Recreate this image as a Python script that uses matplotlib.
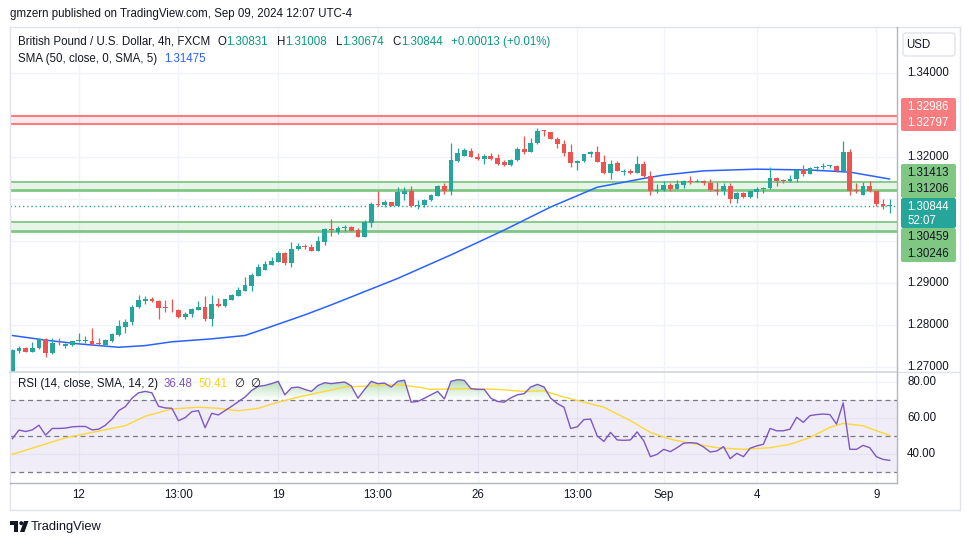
import numpy as np
import matplotlib
matplotlib.use('Agg')
import matplotlib.pyplot as plt
from matplotlib.transforms import blended_transform_factory as btf
from matplotlib.patches import Rectangle, FancyBboxPatch, Polygon, Circle
from matplotlib.lines import Line2D
from matplotlib.path import Path
from matplotlib.colors import LinearSegmentedColormap

plt.rcParams['font.family'] = ['Liberation Sans', 'DejaVu Sans']

# ---------------- data ----------------
opens = [1.2685, 1.2738, 1.2746, 1.2736, 1.2746, 1.2766, 1.2734, 1.2758, 1.2750, 1.2752,
         1.2762, 1.2762, 1.2763, 1.2757, 1.2752, 1.2762, 1.2776, 1.2796, 1.2806, 1.2842,
         1.2858, 1.2862, 1.2858, 1.2841, 1.2839, 1.2836, 1.2818, 1.2826, 1.2836, 1.2842,
         1.2814, 1.2850, 1.2845, 1.2860, 1.2869, 1.2881, 1.2894, 1.2917, 1.2931, 1.2943,
         1.2951, 1.2972, 1.2948, 1.2980, 1.2986, 1.2985, 1.2977, 1.2998, 1.3028, 1.3022,
         1.3030, 1.3033, 1.3026, 1.3010, 1.3044, 1.3089, 1.3085, 1.3092, 1.3084, 1.3113,
         1.3120, 1.3084, 1.3086, 1.3097, 1.3108, 1.3132, 1.3118, 1.3190, 1.3203, 1.3215,
         1.3200, 1.3196, 1.3203, 1.3198, 1.3187, 1.3180, 1.3192, 1.3218, 1.3212, 1.3233,
         1.3263, 1.3260, 1.3244, 1.3232, 1.3211, 1.3186, 1.3190, 1.3207, 1.3212, 1.3188,
         1.3162, 1.3185, 1.3165, 1.3167, 1.3163, 1.3184, 1.3155, 1.3118, 1.3121, 1.3134,
         1.3124, 1.3134, 1.3143, 1.3141, 1.3143, 1.3138, 1.3122, 1.3120, 1.3131, 1.3100,
         1.3115, 1.3104, 1.3117, 1.3123, 1.3125, 1.3150, 1.3146, 1.3142, 1.3147, 1.3170,
         1.3160, 1.3174, 1.3176, 1.3178, 1.3179, 1.3166, 1.3211, 1.3121, 1.3110, 1.3132,
         1.3119, 1.3088, 1.30831]
highs = [1.2742, 1.2750, 1.2747, 1.2760, 1.2770, 1.2768, 1.2770, 1.2768, 1.2758, 1.2763,
         1.2782, 1.2774, 1.2792, 1.2768, 1.2766, 1.2780, 1.2812, 1.2814, 1.2848, 1.2872,
         1.2870, 1.2866, 1.2860, 1.2860, 1.2862, 1.2837, 1.2830, 1.2840, 1.2857, 1.2869,
         1.2871, 1.2864, 1.2863, 1.2874, 1.2890, 1.2914, 1.2923, 1.2945, 1.2952, 1.2961,
         1.2977, 1.2973, 1.2997, 1.2996, 1.2992, 1.2993, 1.3012, 1.3030, 1.3053, 1.3036,
         1.3038, 1.3036, 1.3030, 1.3049, 1.3092, 1.3120, 1.3098, 1.3093, 1.3129, 1.3129,
         1.3132, 1.3097, 1.3100, 1.3111, 1.3133, 1.3137, 1.3233, 1.3222, 1.3221, 1.3221,
         1.3210, 1.3206, 1.3210, 1.3207, 1.3192, 1.3196, 1.3223, 1.3249, 1.3245, 1.3268,
         1.3264, 1.3260, 1.3247, 1.3240, 1.3232, 1.3192, 1.3208, 1.3214, 1.3227, 1.3204,
         1.3192, 1.3191, 1.3171, 1.3171, 1.3202, 1.3190, 1.3166, 1.3136, 1.3142, 1.3139,
         1.3146, 1.3146, 1.3155, 1.3147, 1.3146, 1.3147, 1.3140, 1.3139, 1.3139, 1.3117,
         1.3116, 1.3120, 1.3128, 1.3128, 1.3176, 1.3152, 1.3148, 1.3158, 1.3171, 1.3182,
         1.3175, 1.3178, 1.3186, 1.3182, 1.3180, 1.3239, 1.3218, 1.3138, 1.3140, 1.3144,
         1.3119, 1.3100, 1.31008]
lows = [1.2680, 1.2734, 1.2735, 1.2735, 1.2744, 1.2724, 1.2730, 1.2752, 1.2746, 1.2751,
        1.2760, 1.2756, 1.2753, 1.2753, 1.2751, 1.2760, 1.2774, 1.2780, 1.2800, 1.2840,
        1.2850, 1.2854, 1.2814, 1.2832, 1.2832, 1.2817, 1.2814, 1.2820, 1.2835, 1.2810,
        1.2798, 1.2844, 1.2844, 1.2859, 1.2868, 1.2880, 1.2882, 1.2916, 1.2930, 1.2942,
        1.2950, 1.2944, 1.2939, 1.2979, 1.2981, 1.2976, 1.2976, 1.2990, 1.3012, 1.3017,
        1.3024, 1.3023, 1.3010, 1.3010, 1.3034, 1.3083, 1.3082, 1.3083, 1.3083, 1.3097,
        1.3082, 1.3077, 1.3082, 1.3096, 1.3107, 1.3112, 1.3109, 1.3189, 1.3202, 1.3199,
        1.3192, 1.3183, 1.3194, 1.3182, 1.3179, 1.3179, 1.3191, 1.3207, 1.3211, 1.3232,
        1.3249, 1.3242, 1.3221, 1.3203, 1.3176, 1.3168, 1.3187, 1.3200, 1.3187, 1.3160,
        1.3148, 1.3166, 1.3158, 1.3160, 1.3162, 1.3153, 1.3110, 1.3114, 1.3120, 1.3120,
        1.3123, 1.3126, 1.3135, 1.3140, 1.3134, 1.3120, 1.3110, 1.3110, 1.3090, 1.3090,
        1.3102, 1.3102, 1.3102, 1.3114, 1.3124, 1.3132, 1.3138, 1.3140, 1.3140, 1.3154,
        1.3159, 1.3166, 1.3171, 1.3174, 1.3165, 1.3165, 1.3110, 1.3114, 1.3110, 1.3117,
        1.3084, 1.3075, 1.30674]
closes = [1.2740, 1.2746, 1.2736, 1.2746, 1.2766, 1.2734, 1.2756, 1.2756, 1.2754, 1.2762,
          1.2763, 1.2763, 1.2754, 1.2755, 1.2764, 1.2778, 1.2798, 1.2808, 1.2844, 1.2860,
          1.2862, 1.2856, 1.2840, 1.2840, 1.2837, 1.2818, 1.2826, 1.2838, 1.2842, 1.2814,
          1.2850, 1.2845, 1.2862, 1.2871, 1.2883, 1.2895, 1.2919, 1.2939, 1.2945, 1.2953,
          1.2972, 1.2948, 1.2981, 1.2987, 1.2985, 1.2977, 1.3000, 1.3028, 1.3026, 1.3032,
          1.3033, 1.3024, 1.3010, 1.3046, 1.3089, 1.3085, 1.3092, 1.3084, 1.3116, 1.3120,
          1.3084, 1.3086, 1.3098, 1.3110, 1.3132, 1.3118, 1.3192, 1.3209, 1.3216, 1.3200,
          1.3196, 1.3203, 1.3196, 1.3184, 1.3180, 1.3194, 1.3218, 1.3212, 1.3233, 1.3263,
          1.3261, 1.3243, 1.3231, 1.3210, 1.3186, 1.3191, 1.3207, 1.3212, 1.3188, 1.3162,
          1.3183, 1.3167, 1.3167, 1.3163, 1.3184, 1.3154, 1.3118, 1.3122, 1.3134, 1.3124,
          1.3136, 1.3144, 1.3141, 1.3143, 1.3138, 1.3122, 1.3120, 1.3131, 1.3100, 1.3115,
          1.3104, 1.3118, 1.3124, 1.3125, 1.3150, 1.3144, 1.3144, 1.3148, 1.3170, 1.3160,
          1.3174, 1.3176, 1.3178, 1.3179, 1.3166, 1.3211, 1.3118, 1.3118, 1.3132, 1.3118,
          1.3087, 1.3083, 1.30844]

sma_idx = [0, 5, 10, 16, 20, 24, 30, 35, 38, 40, 44, 48, 58, 66, 74, 81, 88, 91, 95, 98,
           104, 112, 120, 126, 132]
sma_vals = [1.2775, 1.2764, 1.2755, 1.2747, 1.2751, 1.2760, 1.2767, 1.2775, 1.2791, 1.2802,
            1.2824, 1.2848, 1.2911, 1.2967, 1.3026, 1.3081, 1.3128, 1.3137, 1.3149, 1.3157,
            1.3167, 1.3171, 1.3169, 1.3164, 1.31475]

rsi_vals = [48.5, 53.3, 52.5, 53.4, 56.0, 50.5, 54.2, 54.2, 54.4, 55.1,
            55.3, 55.3, 53.4, 53.8, 56.0, 59.4, 64.1, 66.3, 71.0, 74.0,
            74.8, 74.0, 66.5, 65.6, 65.4, 58.5, 60.2, 63.5, 64.1, 54.6,
            62.6, 61.7, 64.1, 66.5, 69.1, 71.6, 75.3, 77.6, 78.1, 79.1,
            80.4, 72.9, 76.8, 77.2, 75.9, 74.8, 78.1, 79.6, 79.1, 79.6,
            80.0, 77.8, 71.0, 75.9, 80.4, 79.1, 79.4, 77.2, 80.4, 81.0,
            68.8, 69.2, 71.0, 72.9, 74.8, 70.6, 80.4, 81.3, 80.9, 76.3,
            75.9, 75.9, 71.0, 69.2, 68.8, 71.2, 72.9, 73.5, 77.2, 78.7,
            77.2, 71.0, 68.0, 66.0, 54.2, 55.1, 59.1, 59.4, 50.0, 47.0,
            52.0, 47.8, 47.6, 47.8, 52.3, 47.3, 38.5, 39.8, 42.6, 41.3,
            43.5, 46.0, 46.3, 46.0, 43.9, 41.1, 41.7, 44.1, 37.4, 40.4,
            38.5, 43.2, 44.5, 45.4, 54.2, 52.9, 52.9, 53.8, 60.4, 57.6,
            61.3, 61.9, 62.2, 61.9, 56.6, 68.4, 42.6, 42.6, 44.8, 43.5,
            38.5, 37.0, 36.48]

rsi_ma_idx = [0, 8, 12, 17, 20, 24, 28, 31, 34, 37, 40, 43, 47, 50, 54, 58, 61, 63, 68, 73,
              77, 80, 83, 86, 89, 93, 96, 99, 102, 106, 110, 114, 117, 120, 123, 125, 128,
              130, 132]
rsi_ma_vals = [39.8, 49.0, 52.0, 55.7, 61.0, 65.0, 66.0, 65.4, 64.0, 65.4, 68.8, 71.6, 74.8,
               77.2, 77.8, 78.5, 77.2, 75.9, 76.3, 75.9, 74.8, 75.1, 71.6, 68.8, 66.0, 58.5,
               52.0, 48.2, 46.0, 43.5, 42.6, 43.5, 45.4, 49.1, 54.8, 57.0, 55.7, 52.9, 50.41]

red_zone = [1.32797, 1.32986]
green_zone_hi = [1.31206, 1.31413]
green_zone_lo = [1.30246, 1.30459]

price_grid = [1.27, 1.28, 1.29, 1.30, 1.31, 1.32, 1.33, 1.34]
price_label_levels = [1.27, 1.28, 1.29, 1.32, 1.34]
rsi_grid = [40, 60, 80]
time_idx = [10, 25, 40, 55, 70, 85, 98, 112, 130]
time_labels = ['12', '13:00', '19', '13:00', '26', '13:00', 'Sep', '4', '9']

last_ohlc = {'O': 1.30831, 'H': 1.31008, 'L': 1.30674, 'C': 1.30844}
change = '+0.00013 (+0.01%)'
sma_last = 1.31475
rsi_last = 36.48
rsi_ma_last = 50.41
countdown = '52:07'

# ---------------- style ----------------
UP = '#26a69a'
DOWN = '#ef5350'
TXT = '#131722'
GRID = '#f0f3fa'
AXLINE = '#b2b5be'
W, H = 970, 545
FS = 8.3


def fx(x):
    return x / W


def fy(y):
    return 1 - y / H


fig = plt.figure(figsize=(W / 100, H / 100), dpi=100)
fig.patch.set_facecolor('white')

XL = (-0.35, 133.1)
ax = fig.add_axes([fx(10), fy(372), 887 / W, 345 / H])
rax = fig.add_axes([fx(10), fy(483), 887 / W, 111 / H])
for a in (ax, rax):
    a.set_axis_off()

idx = np.arange(len(closes))
o = np.array(opens)
h = np.array(highs)
l = np.array(lows)
c = np.array(closes)

# grid
for lvl in price_grid:
    ax.axhline(lvl, color=GRID, lw=1, zorder=0)
for t in time_idx:
    ax.axvline(t, color=GRID, lw=1, zorder=0)
    rax.axvline(t, color=GRID, lw=1, zorder=0)

# zones
ax.axhspan(red_zone[0], red_zone[1], color='#f23645', alpha=0.10, lw=0, zorder=1)
for v in red_zone:
    ax.axhline(v, color='#f77c80', lw=1.5, zorder=1.5)
for z in (green_zone_hi, green_zone_lo):
    ax.axhspan(z[0], z[1], color='#4caf50', alpha=0.13, lw=0, zorder=1)
    ax.axhline(z[1], color='#81c784', lw=1.3, zorder=1.5)
    ax.axhline(z[0], color='#81c784', lw=2.0, zorder=1.5)

# SMA
ax.plot(sma_idx, sma_vals, color='#2962ff', lw=1.1, zorder=2, solid_capstyle='round')

# candles
up = c >= o
col = np.where(up, UP, DOWN)
ax.vlines(idx, l, h, colors=col, lw=0.9, zorder=3)
body_bottom = np.minimum(o, c)
body_h = np.maximum(np.abs(c - o), 0.00022)
ax.bar(idx, body_h, bottom=body_bottom, width=0.72, color=col, lw=0, zorder=4)

# last price line
ax.axhline(closes[-1], color=UP, lw=1, ls=(0, (1, 2)), zorder=2)

ax.set_xlim(*XL)
ax.set_ylim(1.26881, 1.35095)

# price labels
tr = btf(ax.transAxes, ax.transData)
for lvl in price_label_levels:
    ax.text(1.0113, lvl, f'{lvl:.5f}', transform=tr, ha='left', va='center',
            fontsize=FS, color=TXT, clip_on=False)

# ---------------- RSI pane ----------------
rsi = np.array(rsi_vals)
for lvl in rsi_grid:
    rax.axhline(lvl, color=GRID, lw=1, zorder=0)
rax.axhspan(30, 70, color='#7e57c2', alpha=0.1, lw=0, zorder=0.5)
for lvl in (70, 50, 30):
    rax.axhline(lvl, color='#787b86', lw=0.9, ls=(0, (4, 3)), zorder=1)

fb = rax.fill_between(idx, rsi, 70, where=rsi > 70, interpolate=True,
                      facecolor='none', edgecolor='none')
paths = fb.get_paths()
if paths:
    clip = Path.make_compound_path(*paths)
    cmap = LinearSegmentedColormap.from_list(
        'gfade', [(0.30, 0.69, 0.31, 0.0), (0.30, 0.69, 0.31, 0.45)])
    grad = np.linspace(0, 1, 100).reshape(-1, 1)
    im = rax.imshow(grad, extent=[XL[0], XL[1], 70, 82], origin='lower',
                    aspect='auto', cmap=cmap, zorder=1.2, interpolation='bilinear')
    im.set_clip_path(clip, transform=rax.transData)

rax.plot(rsi_ma_idx, rsi_ma_vals, color='#fdd835', lw=1.0, zorder=2)
rax.plot(idx, rsi, color='#7e57c2', lw=1.0, zorder=3)
rax.set_xlim(*XL)
rax.set_ylim(23.89, 85.56)

rtr = btf(rax.transAxes, rax.transData)
for lvl in rsi_grid:
    rax.text(1.0113, lvl, f'{lvl:.2f}', transform=rtr, ha='left', va='center',
             fontsize=FS, color=TXT, clip_on=False)

# time labels
ttr = btf(rax.transData, fig.transFigure)
for t, lab in zip(time_idx, time_labels):
    rax.text(t, fy(495), lab, transform=ttr, ha='center', va='center',
             fontsize=FS, color=TXT, clip_on=False)

# ---------------- overlay (pixel coordinates) ----------------
ov = fig.add_axes([0, 0, 1, 1])
ov.set_xlim(0, W)
ov.set_ylim(H, 0)
ov.set_axis_off()

# frame lines
ov.add_line(Line2D([10, 960], [27, 27], color='#e0e3eb', lw=1))
ov.add_line(Line2D([10, 10], [27, 510], color='#e0e3eb', lw=1))
ov.add_line(Line2D([960, 960], [27, 510], color='#e0e3eb', lw=1))
ov.add_line(Line2D([10, 960], [510, 510], color='#e0e3eb', lw=1))
ov.add_line(Line2D([10, 897], [372, 372], color='#d1d4dc', lw=1.2))
ov.add_line(Line2D([897, 960], [372, 372], color='#e0e3eb', lw=1))
ov.add_line(Line2D([10, 897], [483, 483], color=AXLINE, lw=1))
ov.add_line(Line2D([897, 897], [27, 483], color=AXLINE, lw=1))

# USD box
ov.add_patch(FancyBboxPatch((903, 33), 52, 23, boxstyle='round,pad=0,rounding_size=3',
                            fc='white', ec='#e0e3eb', lw=1))
ov.text(918, 44.5, 'USD', ha='center', va='center', fontsize=FS, color=TXT)

# price tags
def tag(y0, y1, color, texts, tcol):
    ov.add_patch(FancyBboxPatch((901, y0), 55, y1 - y0, boxstyle='round,pad=0,rounding_size=2',
                                fc=color, ec='none'))
    for ty, s in texts:
        ov.text(907, ty, s, ha='left', va='center', fontsize=FS, color=tcol,
                fontweight='normal')


tag(98, 131, '#f77c80', [(107, f'{red_zone[1]:.5f}'), (123, f'{red_zone[0]:.5f}')], 'white')
tag(164, 198, '#81c784', [(173, f'{green_zone_hi[1]:.5f}'), (189.5, f'{green_zone_hi[0]:.5f}')], TXT)
tag(228, 262, '#81c784', [(237.5, f'{green_zone_lo[1]:.5f}'), (254, f'{green_zone_lo[0]:.5f}')], TXT)
tag(198, 228, UP, [(207, f'{closes[-1]:.5f}'), (220.5, countdown)], 'white')

# sequential text helper
renderer = fig.canvas.get_renderer()


def seq(x, y, parts, fs=FS):
    for s, color, gap in parts:
        x += gap
        t = ov.text(x, y, s, ha='left', va='center', fontsize=fs, color=color)
        bb = t.get_window_extent(renderer)
        x = bb.x1


fig.text(fx(10), fy(14), 'gmzern published on TradingView.com, Sep 09, 2024 12:07 UTC-4',
         ha='left', va='center', fontsize=FS, color=TXT)

G = '#089981'
seq(18, 42, [('British Pound / U.S. Dollar, 4h, FXCM', TXT, 0),
             ('O', TXT, 7), (f"{last_ohlc['O']:.5f}", G, 0),
             ('H', TXT, 9), (f"{last_ohlc['H']:.5f}", G, 0),
             ('L', TXT, 9), (f"{last_ohlc['L']:.5f}", G, 0),
             ('C', TXT, 9), (f"{last_ohlc['C']:.5f}", G, 0),
             (change, G, 8)])
seq(18, 59, [('SMA (50, close, 0, SMA, 5)', TXT, 0), (f'{sma_last:.5f}', '#2962ff', 7)])
seq(18, 384, [('RSI (14, close, SMA, 14, 2)', TXT, 0), (f'{rsi_last:.2f}', '#7e57c2', 6),
              (f'{rsi_ma_last:.2f}', '#f9d71c', 6), ('\u2205', TXT, 6), ('\u2205', TXT, 6)])

# footer logo
ov.add_patch(Rectangle((10, 521), 8.5, 4, fc=TXT, ec='none'))
ov.add_patch(Rectangle((14, 521), 4.5, 11, fc=TXT, ec='none'))
ov.add_patch(Circle((21.3, 523.2), 2.0, fc=TXT, ec='none'))
ov.add_patch(Polygon([(24, 521), (28.5, 521), (24.5, 532), (20, 532)], closed=True, fc=TXT, ec='none'))
ov.text(31, 527, 'TradingView', ha='left', va='center', fontsize=9.3, color=TXT)

fig.savefig('out.png', dpi=100, facecolor='white')
